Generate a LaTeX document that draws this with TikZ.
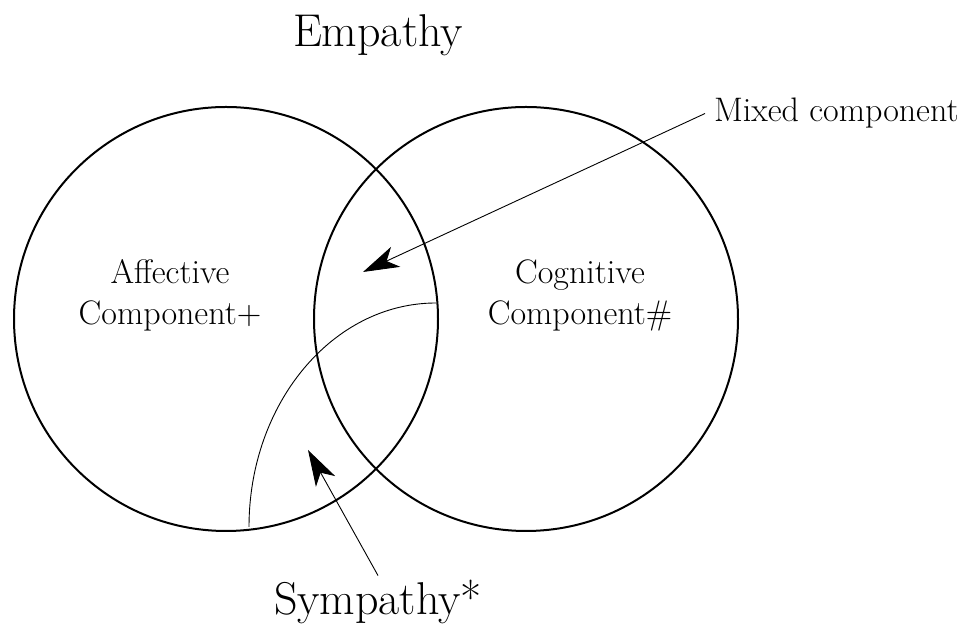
\documentclass[tikz,border=0pt]{standalone}
\usetikzlibrary{arrows.meta}
\begin{document}
\begin{tikzpicture}[x=1pt,y=1pt,line width=2pt,
		lbl/.style={inner sep=0pt,align=center,font=\fontsize{34}{41}\selectfont},
		big/.style={inner sep=0pt,font=\fontsize{46}{52}\selectfont},
		arr/.style={line width=0.9pt,-{Stealth[length=36pt,width=22pt,inset=10pt]}}]
		\useasboundingbox (0,0) rectangle (967,628);
		% the two components
		\draw (226,309) circle (212);
		\draw (526,309) circle (212);
		\draw[line width=0.9pt] (436,325) arc[start angle=90,end angle=180,x radius=187,y radius=224];
		\node[big,anchor=base] (emp) at (378,581) {Empathy};
		\node[lbl] (aff) at (170,333) {Affective\\Component+};
		\node[lbl] (cog) at (580,333) {Cognitive\\Component\#};
		\node[lbl,anchor=base west] (mixed) at (713,506) {Mixed component};
		\node[big,anchor=base] (sym) at (378,13) {Sympathy*};
		\coordinate (mixtip) at (363,356);
		\coordinate (symtip) at (308,178);
		\draw[arr] ([xshift=-8pt]mixed.west) -- (mixtip);
		\draw[arr] ([yshift=4pt]sym.north) -- (symtip);
	\end{tikzpicture}
\end{document}
